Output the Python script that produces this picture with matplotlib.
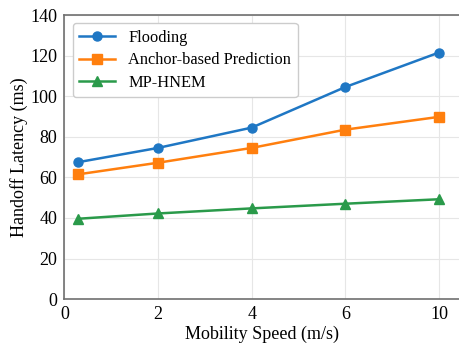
import matplotlib.pyplot as plt

# data
x_pos = [0.3, 2, 4, 6, 8]
tick_pos = [0, 2, 4, 6, 8]
tick_labels = ["0", "2", "4", "6", "10"]
flooding = [67.5, 74.5, 84.5, 104.5, 121.5]
anchor = [61.5, 67.2, 74.5, 83.5, 89.8]
mp_hnem = [39.6, 42.2, 44.7, 47.0, 49.2]

plt.rcParams["font.family"] = ["Liberation Serif", "DejaVu Serif"]

fig, ax = plt.subplots(figsize=(4.6, 3.49), dpi=100)
ax.plot(x_pos, flooding, marker="o", color="#1f77c4", lw=1.8, ms=6.5, label="Flooding")
ax.plot(x_pos, anchor, marker="s", color="#ff7f0e", lw=1.8, ms=6.5, label="Anchor-based Prediction")
ax.plot(x_pos, mp_hnem, marker="^", color="#2a9a4a", lw=1.8, ms=6.5, label="MP-HNEM")

ax.set_xlim(0, 8.45)
ax.set_ylim(0, 140)
ax.set_xticks(tick_pos)
ax.set_xticklabels(tick_labels)
ax.set_yticks(range(0, 141, 20))
ax.tick_params(labelsize=13, length=0, pad=5)
ax.grid(True, color="#e6e6e6", lw=0.8)
ax.set_axisbelow(True)
for s in ax.spines.values():
    s.set_color("#707070")
    s.set_linewidth(1.2)
ax.spines["right"].set_visible(False)
ax.set_xlabel("Mobility Speed (m/s)", fontsize=13, labelpad=2)
ax.set_ylabel("Handoff Latency (ms)", fontsize=13, labelpad=2)
ax.legend(loc="upper left", fontsize=11.8, frameon=True, framealpha=1,
          edgecolor="#cccccc", handlelength=2.2, borderaxespad=0.5,
          labelspacing=0.4)

fig.subplots_adjust(left=0.14, right=1.0, top=0.957, bottom=0.143)
fig.savefig("out.png", dpi=100)
